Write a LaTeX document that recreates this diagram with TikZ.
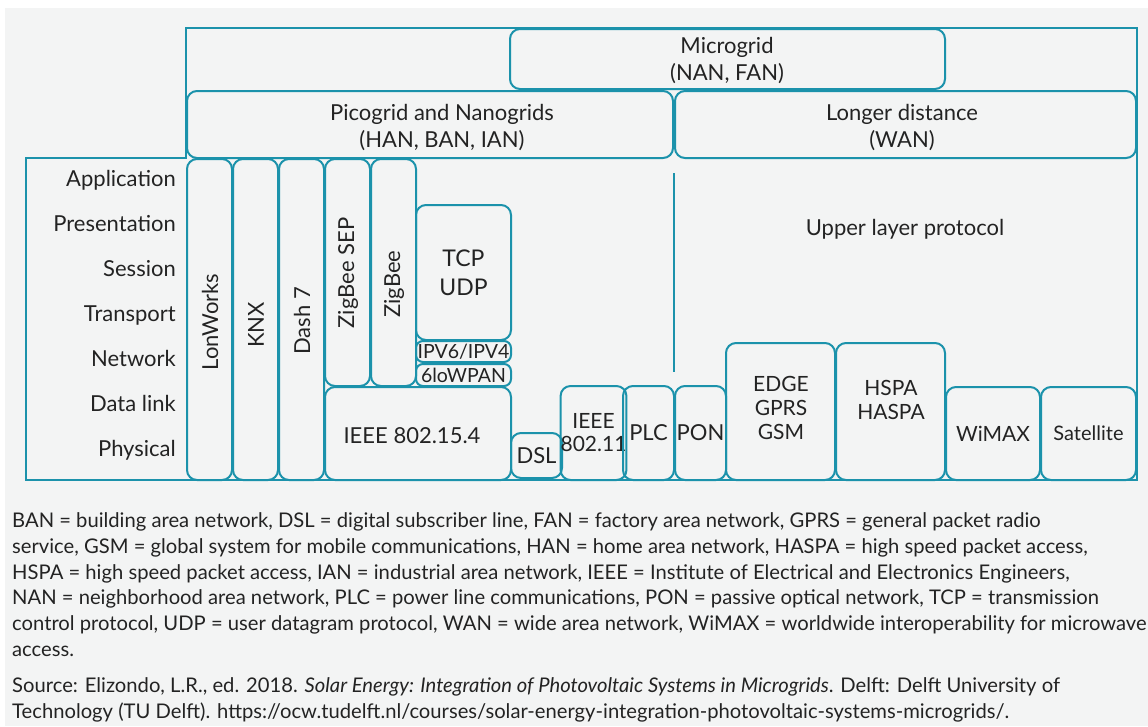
\documentclass[tikz,border=0pt]{standalone}
\usepackage{fontspec}
\setmainfont{Lato}
\definecolor{tl}{RGB}{27,146,171}
\definecolor{bgc}{RGB}{243,244,244}
\definecolor{ink}{RGB}{35,35,35}
\tikzset{
  bx/.style={draw=tl, line width=2pt, rounded corners=10pt, inner sep=0pt, outer sep=0pt,
    align=center, text=ink, font=\fontsize{22}{27}\selectfont},
  lay/.style={anchor=base east, text=ink, font=\fontsize{22}{26}\selectfont, inner sep=0pt},
  capline/.style={anchor=base west, text=ink, font=\fontsize{20.2}{24}\selectfont, inner sep=0pt},
  txt/.style={text=ink, align=center, inner sep=0pt, font=\fontsize{22}{27}\selectfont},
  vtxt/.style={txt, rotate=90},
  frameline/.style={draw=tl, line width=2.5pt},
}
\newcommand{\mybox}[7][]{\node[bx,minimum width={(#5-#3)*1pt},minimum height={(#6-#4)*1pt},#1] (#2) at ({(#3+#5)/2},{(#4+#6)/2}) {#7};}
\begin{document}
\begin{tikzpicture}[x=1pt,y=-1pt]
\clip (0,0) rectangle (1148,726);
\fill[white] (0,0) rectangle (1148,726);
\fill[bgc] (5,8) rectangle (1148,726);
% outer frame
\draw[frameline] (26,158) -- (186,158) -- (186,28) -- (1137,28) -- (1137,480) -- (26,480) -- cycle;
% top bands
\mybox{micro}{510}{29}{945}{89}{}
\node[txt] (microt) at (727,61) {Microgrid\\(NAN, FAN)};
\mybox{pico}{187}{91}{673}{158}{}
\node[txt] (picot) at (442,128) {Picogrid and Nanogrids\\(HAN, BAN, IAN)};
\mybox{longd}{675}{91}{1136}{158}{}
\node[txt] (longt) at (902,128) {Longer distance\\(WAN)};
% layer labels
\node[lay] (l1) at (176,186) {Application};
\node[lay] (l2) at (176,231) {Presentation};
\node[lay] (l3) at (176,276) {Session};
\node[lay] (l4) at (176,321) {Transport};
\node[lay] (l5) at (176,366) {Network};
\node[lay] (l6) at (176,411) {Data link};
\node[lay] (l7) at (176,456) {Physical};
% vertical protocol columns
\mybox{lon}{187}{159}{232}{480}{}
\node[vtxt] (lont) at (210,322) {LonWorks};
\mybox{knx}{233}{159}{278}{480}{}
\node[vtxt] (knxt) at (256,325) {KNX};
\mybox{dash}{279}{159}{324}{480}{}
\node[vtxt] (dasht) at (302,321) {Dash 7};
\mybox{zsep}{325}{159}{370}{386}{}
\node[vtxt] (zsept) at (348,273) {ZigBee SEP};
\mybox{zig}{371}{159}{416}{386}{}
\node[vtxt] (zigt) at (394,284) {ZigBee};
% TCP stack
\mybox[font=\fontsize{23}{29}\selectfont]{tcp}{416}{205}{511}{340}{TCP\\UDP}
\mybox[rounded corners=7pt,font=\fontsize{19.5}{20}\selectfont]{ipv}{416}{341}{511}{362}{IPV6/IPV4}
\mybox[rounded corners=7pt,font=\fontsize{19.5}{20}\selectfont]{low}{416}{364}{511}{386}{6loWPAN}
\mybox{ieee4}{325}{387}{511}{480}{}
\node[txt] (ieee4t) at (412,436) {IEEE 802.15.4};
\mybox{dsl}{511}{433}{562}{478}{DSL}
\mybox[font=\fontsize{21}{23}\selectfont]{ieee11}{565}{386}{622}{480}{IEEE\\802.11}
\mybox{plc}{623}{386}{674}{480}{PLC}
\mybox{pon}{675}{386}{726}{480}{PON}
% divider line
\coordinate (vtop) at (674,173);
\coordinate (vbot) at (674,372);
\draw[draw=tl, line width=2pt] (vtop) -- (vbot);
\node[txt] (upper) at (905,229) {Upper layer protocol};
% WAN protocols
\mybox{edge}{726}{343}{835}{480}{}
\node[txt, font=\fontsize{21}{24}\selectfont] (edget) at (781,408) {EDGE\\GPRS\\GSM};
\mybox{hspa}{836}{343}{945}{480}{}
\node[txt, font=\fontsize{21}{24}\selectfont] (hspat) at (891,400) {HSPA\\HASPA};
\mybox[font=\fontsize{21}{24}\selectfont]{wimax}{946}{387}{1040}{480}{WiMAX}
\mybox[font=\fontsize{20}{24}\selectfont]{sat}{1041}{387}{1136}{480}{Satellite}
% caption
\node[capline] (c1) at (12,527) {BAN = building area network, DSL = digital subscriber line, FAN = factory area network, GPRS = general packet radio};
\node[capline] (c2) at (12,553) {service, GSM = global system for mobile communications, HAN = home area network, HASPA = high speed packet access,};
\node[capline] (c3) at (12,579) {HSPA = high speed packet access, IAN = industrial area network, IEEE = Institute of Electrical and Electronics Engineers,};
\node[capline] (c4) at (12,604) {NAN = neighborhood area network, PLC = power line communications, PON = passive optical network, TCP = transmission};
\node[capline] (c5) at (12,630) {control protocol, UDP = user datagram protocol, WAN = wide area network, WiMAX = worldwide interoperability for microwave};
\node[capline] (c6) at (12,656) {access.};
\node[capline] (c7) at (12,692) {Source: Elizondo, L.R., ed. 2018. \textit{Solar Energy: Integration of Photovoltaic Systems in Microgrids}. Delft: Delft University of};
\node[capline] (c8) at (12,718) {Technology (TU Delft). https://ocw.tudelft.nl/courses/solar-energy-integration-photovoltaic-systems-microgrids/.};
\end{tikzpicture}
\end{document}
